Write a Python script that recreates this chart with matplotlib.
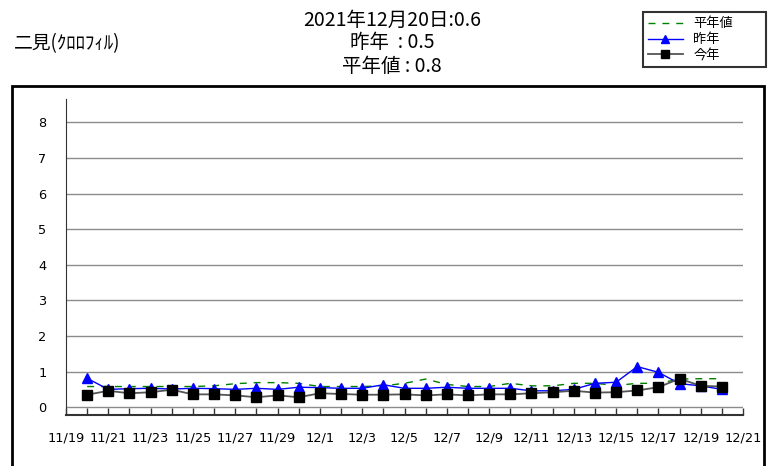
import numpy as np
import pandas as pd
import matplotlib
matplotlib.use("Agg")
import matplotlib.pyplot as plt
import matplotlib.dates as mdates
from matplotlib.patches import Rectangle

plt.rcParams['font.family'] = ['DejaVu Sans', 'Noto Sans CJK JP']
jp = ['Noto Sans CJK JP', 'DejaVu Sans']

# daily values 11/20 .. 12/20
dates = pd.date_range('2021-11-20', '2021-12-20', freq='D')
normal = [0.58, 0.58, 0.58, 0.58, 0.58, 0.58, 0.60, 0.66, 0.69, 0.69, 0.67,
          0.58, 0.58, 0.58, 0.60, 0.67, 0.79, 0.64, 0.58, 0.58, 0.67, 0.60,
          0.60, 0.67, 0.67, 0.61, 0.67, 0.67, 0.79, 0.80, 0.80]
last_year = [0.81, 0.50, 0.52, 0.53, 0.51, 0.53, 0.52, 0.50, 0.53, 0.50, 0.56,
             0.55, 0.53, 0.53, 0.63, 0.53, 0.53, 0.56, 0.53, 0.53, 0.53, 0.46,
             0.46, 0.50, 0.67, 0.70, 1.14, 0.98, 0.66, 0.60, 0.50]
this_year = [0.35, 0.46, 0.39, 0.42, 0.49, 0.36, 0.36, 0.33, 0.28, 0.33, 0.28,
             0.39, 0.37, 0.35, 0.35, 0.36, 0.33, 0.36, 0.33, 0.36, 0.36, 0.39,
             0.42, 0.46, 0.41, 0.42, 0.47, 0.56, 0.80, 0.60, 0.58]

title_lines = ['2021年12月20日:0.6', '昨年  : 0.5', '平年値 : 0.8']
station = '二見(ｸﾛﾛﾌｨﾙ)'

W, H = 776, 466
fig = plt.figure(figsize=(W / 100, H / 100), dpi=100)
ax = fig.add_axes([66 / W, 1 - 415 / H, (743 - 66) / W, (415 - 99) / H])

ax.plot(dates, normal, color='#008000', lw=1, ls=(0, (5, 5)), label='平年値')
ax.plot(dates, last_year, color='#0000ff', lw=1, marker='^', ms=6.5,
        label='昨年')
ax.plot(dates, this_year, color='#555555', lw=1.3, marker='s', ms=7,
        mfc='black', mec='black', label='今年')

ax.set_xlim(pd.Timestamp('2021-11-19'), pd.Timestamp('2021-12-21'))
ax.set_ylim(-0.22, 8.66)
ax.set_yticks(range(0, 9))
for v in range(0, 9):
    ax.axhline(v, color='#8c8c8c', lw=1, zorder=0)

ax.xaxis.set_major_locator(mdates.DayLocator(bymonthday=list(range(1, 32, 2))))
ax.xaxis.set_minor_locator(mdates.DayLocator())
ax.xaxis.set_major_formatter(plt.FuncFormatter(
    lambda v, p: f"{mdates.num2date(v).month}/{mdates.num2date(v).day}"))
ax.tick_params(axis='x', which='both', direction='in', length=5, width=1,
               color='#333333', pad=12, labelsize=9.3)
ax.tick_params(axis='y', length=0, pad=14, labelsize=9.3)
for s in ['top', 'right']:
    ax.spines[s].set_visible(False)
ax.spines['left'].set_color('#333333')
ax.spines['bottom'].set_color('#333333')
ax.spines['bottom'].set_linewidth(1.5)

# outer frame
fig.patches.append(Rectangle((12 / W, -0.1), (764 - 12) / W, 1 - 86 / H + 0.1,
                             transform=fig.transFigure, fill=False,
                             ec='black', lw=2))

for t, yy in zip(title_lines, [20, 43, 67]):
    fig.text(392 / W, 1 - yy / H, t, ha='center', va='center',
             fontsize=14, family=jp)
fig.text(14 / W, 1 - 44 / H, station, ha='left', va='center',
         fontsize=13.5, family=jp)

leg = fig.legend(loc='upper left',
                 bbox_to_anchor=(643 / W, 1 - 64 / H, 123 / W, 52 / H),
                 mode='expand',
                 prop={'family': jp, 'size': 9.5}, frameon=True, fancybox=False,
                 handlelength=2.6, borderpad=0.4, labelspacing=0.22,
                 handletextpad=0.8, markerscale=0.85, borderaxespad=0)
leg.get_frame().set_edgecolor('black')
leg.get_frame().set_linewidth(1.5)

fig.savefig('out.png', dpi=100)
